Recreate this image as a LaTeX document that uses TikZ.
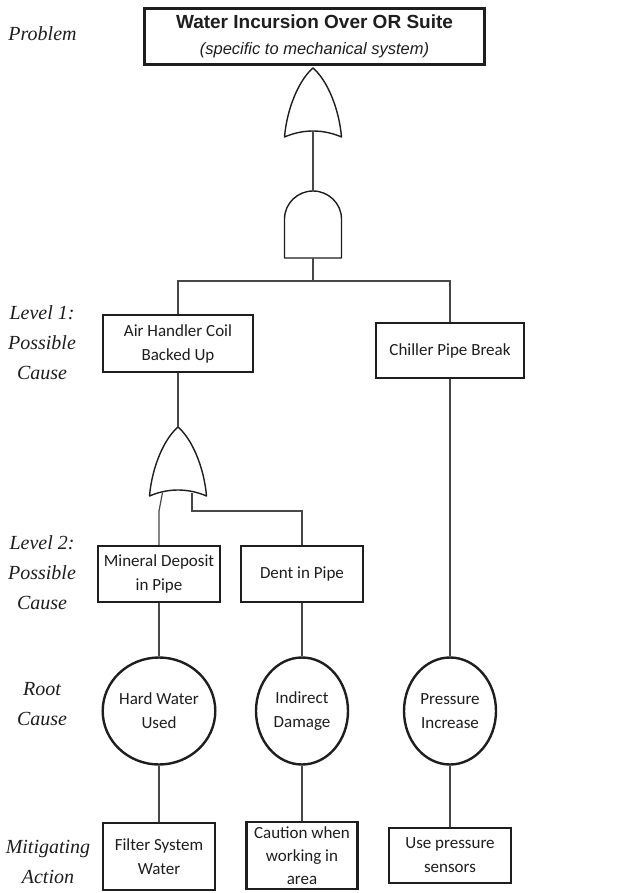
\documentclass[tikz,border=0pt]{standalone}
\usepackage{fontspec}
\setmainfont{Carlito}
\newfontfamily\serffam{Liberation Serif}
\newfontfamily\arialfam{Liberation Sans}
\usetikzlibrary{shapes.geometric}
\definecolor{ink}{HTML}{1E1E1E}
\definecolor{wirecol}{HTML}{484848}
\tikzset{
  box/.style={draw=ink, line width=2.4pt, rectangle, align=center, inner sep=0pt,
    font=\fontsize{17}{24}\selectfont, text=ink},
  rootcause/.style={draw=ink, line width=2.4pt, ellipse, align=center, inner sep=0pt,
    minimum width=92pt, minimum height=107pt, font=\fontsize{17}{24}\selectfont, text=ink},
  level/.style={align=center, font=\serffam\itshape\fontsize{20}{30}\selectfont, text=ink},
  wire/.style={draw=wirecol, line width=1.2pt},
  gate/.style={draw=ink, line width=1.4pt, fill=white, line join=round},
  orgate/.pic={
    \draw[gate] (-28.5,69) .. controls (-26,40) and (-14,12) .. (0,0)
      .. controls (14,12) and (26,40) .. (28.5,69)
      .. controls (10,61) and (-10,61) .. (-28.5,69) -- cycle;
    \coordinate (-out) at (0,0);
    \coordinate (-in) at (0,63);
    \coordinate (-inL) at (-15.5,65.5);
    \coordinate (-inR) at (14,65.5);
  },
  andgate/.pic={
    \draw[gate] (-28.5,67) -- (-28.5,28) .. controls (-28.5,12.5) and (-15.5,0) .. (0,0)
      .. controls (15.5,0) and (28.5,12.5) .. (28.5,28) -- (28.5,67) -- cycle;
    \coordinate (-out) at (0,0);
    \coordinate (-in) at (0,67);
  }
}
\begin{document}
\begin{tikzpicture}[x=1pt,y=-1pt]
\useasboundingbox (0,0) rectangle (622,893);
\fill[white] (0,0) rectangle (622,893);

% row labels
\node[level] (lprob) at (42.5,34) {Problem};
\node[level] (lev1) at (42,343) {Level 1:\\Possible\\Cause};
\node[level] (lev2) at (42,573) {Level 2:\\Possible\\Cause};
\node[level] (lroot) at (42,704) {Root\\Cause};
\node[level] (lmit) at (48,862) {Mitigating\\Action};

% top event
\node[draw=ink, line width=3.6pt, rectangle, align=center, inner sep=0pt,
      minimum width=340pt, minimum height=56pt, text=ink,
      font=\arialfam\fontsize{18.5}{26}\selectfont] (top) at (314.5,36.5)
  {\bfseries\fontsize{19}{26}\selectfont Water Incursion Over OR Suite\\
   \itshape\fontsize{16.5}{26}\selectfont (specific to mechanical system)};

% gates
\pic (or1) at (313,68) {orgate};
\pic (and1) at (313,191) {andgate};
\pic (or2) at (178,427) {orgate};
\coordinate (split) at (313,281);
\coordinate (bend) at (0,511);

% level 1
\node[box, minimum width=150pt, minimum height=57pt] (air) at (178,343.5) {Air Handler Coil\\Backed Up};
\node[box, minimum width=148pt, minimum height=55pt] (chiller) at (450,350.5) {Chiller Pipe Break};

% level 2
\node[box, minimum width=122pt, minimum height=56pt] (mineral) at (159,574) {Mineral Deposit\\in Pipe};
\node[box, minimum width=122pt, minimum height=56pt] (dent) at (302,574) {Dent in Pipe};

% root causes
\node[rootcause] (hard) at (159,711) {Hard Water\\Used};
\node[rootcause] (indirect) at (302,711) {Indirect\\Damage};
\node[rootcause] (pressure) at (450,711) {Pressure\\Increase};

% mitigating actions
\node[box, minimum width=112pt, minimum height=67pt] (filter) at (159,856.5) {Filter System\\Water};
\node[box, minimum width=111pt, minimum height=67pt, font=\fontsize{17}{23}\selectfont] (caution) at (302,855.5) {Caution when\\working in\\area};
\node[box, minimum width=122pt, minimum height=55pt] (usep) at (450,855.5) {Use pressure\\sensors};

% connectors
\draw[wire] (or1-in) -- (and1-out);
\draw[wire] (and1-in) -- (split);
\draw[wire] (air.north) |- (split) -| (chiller.north);
\draw[wire] (air.south) -- (or2-out);
\draw[wire] (or2-inL) -- (mineral.north |- bend) -- (mineral.north);
\draw[wire] (or2-inR) |- (dent.north |- bend) -- (dent.north);
\draw[wire] (chiller.south) -- (pressure.north);
\draw[wire] (mineral.south) -- (hard.north);
\draw[wire] (dent.south) -- (indirect.north);
\draw[wire] (hard.south) -- (filter.north);
\draw[wire] (indirect.south) -- (caution.north);
\draw[wire] (pressure.south) -- (usep.north);
\end{tikzpicture}
\end{document}
